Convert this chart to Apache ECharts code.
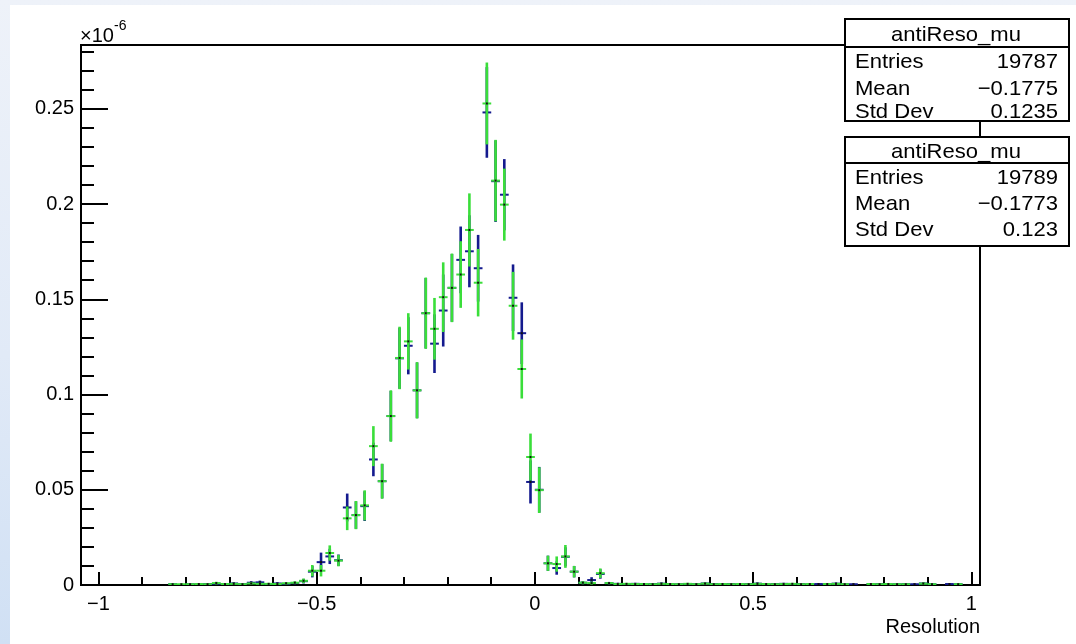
<!DOCTYPE html>
<html>
<head>
<meta charset="utf-8">
<script src="https://cdn.jsdelivr.net/npm/echarts@6/dist/echarts.min.js"></script>
<style>
  html, body { margin: 0; padding: 0; width: 1076px; height: 644px; overflow: hidden;
    background: linear-gradient(180deg, #eef2f9 0%, #e1eaf7 55%, #d0e0f4 100%); }
  #paper { position: absolute; left: 10px; top: 5px; width: 1066px; height: 639px; background: #fff; }
  #chart { position: absolute; left: 0; top: 0; width: 1076px; height: 644px; }
</style>
</head>
<body>
<div id="paper"></div>
<div id="chart"></div>
<script>
// Histogram binning: 100 bins of width 0.02 from -1 to 1 (values in units of 1e-6)
const binLow = -1;
const binWidth = 0.02;

// First antiReso_mu histogram (dark blue)
const blueVals = [
  null, null, null, null, null, null, null, null, 0.0004, null,
  0.0004, 0.0004, 0.0005, 0.0006, 0.0004, 0.0008, 0.0004, 0.0012, 0.0014, 0.0005,
  0.0008, 0.0006, 0.0010, 0.0020, 0.0070, 0.0120, 0.0150, 0.0130, 0.0407, 0.0367,
  0.0414, 0.0659, 0.0545, 0.0887, 0.1190, 0.1256, 0.1022, 0.1427, 0.1267, 0.1441,
  0.1560, 0.1707, 0.1752, 0.1663, 0.2481, 0.2120, 0.2049, 0.1508, 0.1322, 0.0541,
  0.0500, 0.0114, 0.0089, 0.0148, 0.0070, 0.0012, 0.0026, 0.0058, 0.0010, 0.0006,
  0.0005, 0.0006, 0.0004, 0.0005, 0.0007, 0.0005, 0.0004, 0.0005, 0.0004, 0.0008,
  0.0005, 0.0004, 0.0005, 0.0004, 0.0005, 0.0007, 0.0004, 0.0005, 0.0006, 0.0004,
  0.0005, 0.0004, 0.0005, 0.0004, 0.0007, 0.0004, 0.0004, null, 0.0004, 0.0005,
  0.0004, 0.0004, 0.0005, 0.0004, 0.0008, 0.0004, null, 0.0005, 0.0004, null
];
const blueErrs = [
  null, null, null, null, null, null, null, null, 0.0004, null,
  0.0004, 0.0004, 0.0005, 0.0006, 0.0004, 0.0006, 0.0004, 0.0008, 0.0009, 0.0005,
  0.0006, 0.0005, 0.0007, 0.0012, 0.0030, 0.0050, 0.0040, 0.0030, 0.0073, 0.0072,
  0.0078, 0.0088, 0.0090, 0.0132, 0.0160, 0.0150, 0.0146, 0.0185, 0.0154, 0.0189,
  0.0178, 0.0175, 0.0189, 0.0175, 0.0238, 0.0214, 0.0187, 0.0175, 0.0162, 0.0113,
  0.0120, 0.0040, 0.0035, 0.0050, 0.0030, 0.0008, 0.0015, 0.0025, 0.0006, 0.0005,
  0.0005, 0.0005, 0.0004, 0.0005, 0.0006, 0.0005, 0.0004, 0.0005, 0.0004, 0.0006,
  0.0005, 0.0004, 0.0005, 0.0004, 0.0005, 0.0006, 0.0004, 0.0005, 0.0005, 0.0004,
  0.0005, 0.0004, 0.0005, 0.0004, 0.0006, 0.0004, 0.0004, null, 0.0004, 0.0005,
  0.0004, 0.0004, 0.0005, 0.0004, 0.0006, 0.0004, null, 0.0005, 0.0004, null
];

// Second antiReso_mu histogram (green)
const greenVals = [
  null, null, null, null, null, null, null, null, 0.0004, 0.0004,
  0.0004, 0.0005, 0.0004, 0.0010, 0.0005, 0.0006, 0.0004, 0.0008, 0.0006, 0.0006,
  0.0005, 0.0009, 0.0012, 0.0022, 0.0075, 0.0075, 0.0168, 0.0128, 0.0350, 0.0367,
  0.0418, 0.0729, 0.0545, 0.0887, 0.1192, 0.1279, 0.1022, 0.1427, 0.1345, 0.1511,
  0.1560, 0.1630, 0.1864, 0.1587, 0.2528, 0.2123, 0.1997, 0.1466, 0.1134, 0.0672,
  0.0498, 0.0114, 0.0110, 0.0150, 0.0070, 0.0012, 0.0010, 0.0062, 0.0010, 0.0005,
  0.0006, 0.0005, 0.0005, 0.0004, 0.0006, 0.0005, 0.0004, 0.0006, 0.0004, 0.0007,
  0.0004, 0.0005, 0.0004, 0.0005, 0.0004, 0.0006, 0.0005, 0.0004, 0.0005, 0.0006,
  0.0004, 0.0005, null, 0.0005, 0.0006, 0.0004, null, null, 0.0005, 0.0004,
  0.0005, 0.0004, 0.0004, null, 0.0007, 0.0004, null, null, 0.0004, null
];
const greenErrs = [
  null, null, null, null, null, null, null, null, 0.0004, 0.0004,
  0.0004, 0.0005, 0.0004, 0.0007, 0.0005, 0.0005, 0.0004, 0.0006, 0.0005, 0.0005,
  0.0005, 0.0006, 0.0007, 0.0012, 0.0030, 0.0030, 0.0040, 0.0030, 0.0062, 0.0074,
  0.0079, 0.0105, 0.0092, 0.0135, 0.0164, 0.0148, 0.0148, 0.0187, 0.0162, 0.0183,
  0.0180, 0.0175, 0.0192, 0.0177, 0.0215, 0.0214, 0.0189, 0.0178, 0.0155, 0.0123,
  0.0120, 0.0040, 0.0040, 0.0060, 0.0030, 0.0008, 0.0008, 0.0025, 0.0006, 0.0005,
  0.0005, 0.0005, 0.0005, 0.0004, 0.0005, 0.0005, 0.0004, 0.0005, 0.0004, 0.0006,
  0.0004, 0.0005, 0.0004, 0.0005, 0.0004, 0.0005, 0.0005, 0.0004, 0.0005, 0.0005,
  0.0004, 0.0005, null, 0.0005, 0.0005, 0.0004, null, null, 0.0005, 0.0004,
  0.0005, 0.0004, 0.0004, null, 0.0006, 0.0004, null, null, 0.0004, null
];

// Axis ticks and labels
const xMajorTicks = [-1, -0.5, 0, 0.5, 1];
const xMinorTicks = [-0.9, -0.8, -0.7, -0.6, -0.4, -0.3, -0.2, -0.1, 0.1, 0.2, 0.3, 0.4, 0.6, 0.7, 0.8, 0.9];
const yMajorTicks = [0, 0.05, 0.1, 0.15, 0.2, 0.25];
const yMinorTicks = [0.01, 0.02, 0.03, 0.04, 0.06, 0.07, 0.08, 0.09, 0.11, 0.12, 0.13, 0.14,
                     0.16, 0.17, 0.18, 0.19, 0.21, 0.22, 0.23, 0.24, 0.26, 0.27, 0.28];

// Statistics boxes
const statsBlue = { title: 'antiReso_mu', rows: [['Entries', '19787'], ['Mean', '\u22120.1775'], ['Std Dev', '0.1235']] };
const statsGreen = { title: 'antiReso_mu', rows: [['Entries', '19789'], ['Mean', '\u22120.1773'], ['Std Dev', '0.123']] };

const FONT = '"Liberation Sans", Arial, Helvetica, sans-serif';
const BLUE = '#141a8e';
const GREEN = '#3ade3a';

function toPoints(vals, errs) {
  const out = [];
  vals.forEach((v, i) => {
    if (v === null) return;
    out.push([binLow + binWidth * (i + 0.5), v, errs[i]]);
  });
  return out;
}

function errorBarRenderer(color) {
  return function (params, api) {
    const x = api.value(0), y = api.value(1), e = api.value(2);
    const left = api.coord([x - binWidth / 2, y]);
    const right = api.coord([x + binWidth / 2, y]);
    const top = api.coord([x, y + e]);
    const bot = api.coord([x, Math.max(0, y - e)]);
    const c = api.coord([x, y]);
    return {
      type: 'group',
      children: [
        { type: 'line', shape: { x1: top[0], y1: top[1], x2: bot[0], y2: bot[1] },
          style: { stroke: color, lineWidth: 2.6 } },
        { type: 'line', shape: { x1: left[0], y1: left[1], x2: right[0], y2: right[1] },
          style: { stroke: color, lineWidth: 2 } },
        { type: 'rect', shape: { x: c[0] - 1, y: c[1] - 1, width: 2, height: 2 },
          style: { fill: '#111' } }
      ]
    };
  };
}

// Stats text is set slightly wide, like the ROOT stats font
function statText(str, x, y, align) {
  return { type: 'text', x: x, y: y, z: 101, scaleX: 1.05,
    style: { text: str, font: '21px ' + FONT, fill: '#000', align: align, verticalAlign: 'middle' } };
}

function statsBox(s, x, y, w, hTitle, hBody, titleY, rowYs) {
  const els = [
    { type: 'rect', shape: { x: x, y: y, width: w, height: hTitle + hBody },
      style: { fill: '#fff', stroke: '#000', lineWidth: 2 }, z: 100 },
    { type: 'line', shape: { x1: x, y1: y + hTitle, x2: x + w, y2: y + hTitle },
      style: { stroke: '#000', lineWidth: 2 }, z: 101 },
    statText(s.title, x + w / 2 - 1, titleY, 'center')
  ];
  s.rows.forEach((r, k) => {
    els.push(statText(r[0], x + 10, rowYs[k], 'left'));
    els.push(statText(r[1], x + w - 11, rowYs[k], 'right'));
  });
  return els;
}

const xFmt = v => (v < 0 ? '\u2212' + String(-v) : String(v));

const chart = echarts.init(document.getElementById('chart'), null, { renderer: 'canvas' });
chart.setOption({
  backgroundColor: 'transparent',
  animation: false,
  grid: { left: 81, top: 45, width: 899, height: 540, show: true, borderColor: '#000', borderWidth: 2,
          backgroundColor: 'transparent' },
  xAxis: [
    { type: 'value', min: -1.04, max: 1.02, position: 'bottom',
      axisLine: { show: true, onZero: false, lineStyle: { color: '#000', width: 2 } },
      axisTick: { show: true, inside: true, length: 13, customValues: xMajorTicks, lineStyle: { color: '#000', width: 2 } },
      axisLabel: { show: true, customValues: xMajorTicks, formatter: xFmt, margin: 9,
                   fontSize: 20, color: '#000', fontFamily: FONT },
      splitLine: { show: false } },
    { type: 'value', min: -1.04, max: 1.02, position: 'bottom',
      axisLine: { show: false, onZero: false },
      axisTick: { show: true, inside: true, length: 8, customValues: xMinorTicks, lineStyle: { color: '#000', width: 2 } },
      axisLabel: { show: false },
      splitLine: { show: false } }
  ],
  yAxis: [
    { type: 'value', min: 0, max: 0.2835, position: 'left',
      axisLine: { show: true, onZero: false, lineStyle: { color: '#000', width: 2 } },
      axisTick: { show: true, inside: true, length: 27, customValues: yMajorTicks, lineStyle: { color: '#000', width: 2 } },
      axisLabel: { show: true, customValues: yMajorTicks, formatter: v => String(v), margin: 7,
                   fontSize: 20, color: '#000', fontFamily: FONT },
      splitLine: { show: false } },
    { type: 'value', min: 0, max: 0.2835, position: 'left',
      axisLine: { show: false, onZero: false },
      axisTick: { show: true, inside: true, length: 13, customValues: yMinorTicks, lineStyle: { color: '#000', width: 2 } },
      axisLabel: { show: false },
      splitLine: { show: false } }
  ],
  series: [
    { type: 'custom', name: 'antiReso_mu (1)', xAxisIndex: 0, yAxisIndex: 0, clip: true,
      renderItem: errorBarRenderer(BLUE), encode: { x: 0, y: 1 }, data: toPoints(blueVals, blueErrs), z: 2 },
    { type: 'custom', name: 'antiReso_mu (2)', xAxisIndex: 0, yAxisIndex: 0, clip: true,
      renderItem: errorBarRenderer(GREEN), encode: { x: 0, y: 1 }, data: toPoints(greenVals, greenErrs), z: 3 }
  ],
  graphic: [
    { type: 'text', x: 80, y: 36, z: 50,
      style: { text: '\u00d710', font: '20px ' + FONT, fill: '#000', align: 'left', verticalAlign: 'middle' } },
    { type: 'text', x: 114, y: 26, z: 50,
      style: { text: '-6', font: '14px ' + FONT, fill: '#000', align: 'left', verticalAlign: 'middle' } },
    { type: 'text', x: 980, y: 627, z: 50,
      style: { text: 'Resolution', font: '20px ' + FONT, fill: '#000', align: 'right', verticalAlign: 'middle' } }
  ].concat(
    statsBox(statsBlue, 845, 19, 224, 28, 74, 35, [62, 89, 112]),
    statsBox(statsGreen, 845, 137, 224, 26, 83, 152, [178, 204, 230])
  )
});
</script>
</body>
</html>
